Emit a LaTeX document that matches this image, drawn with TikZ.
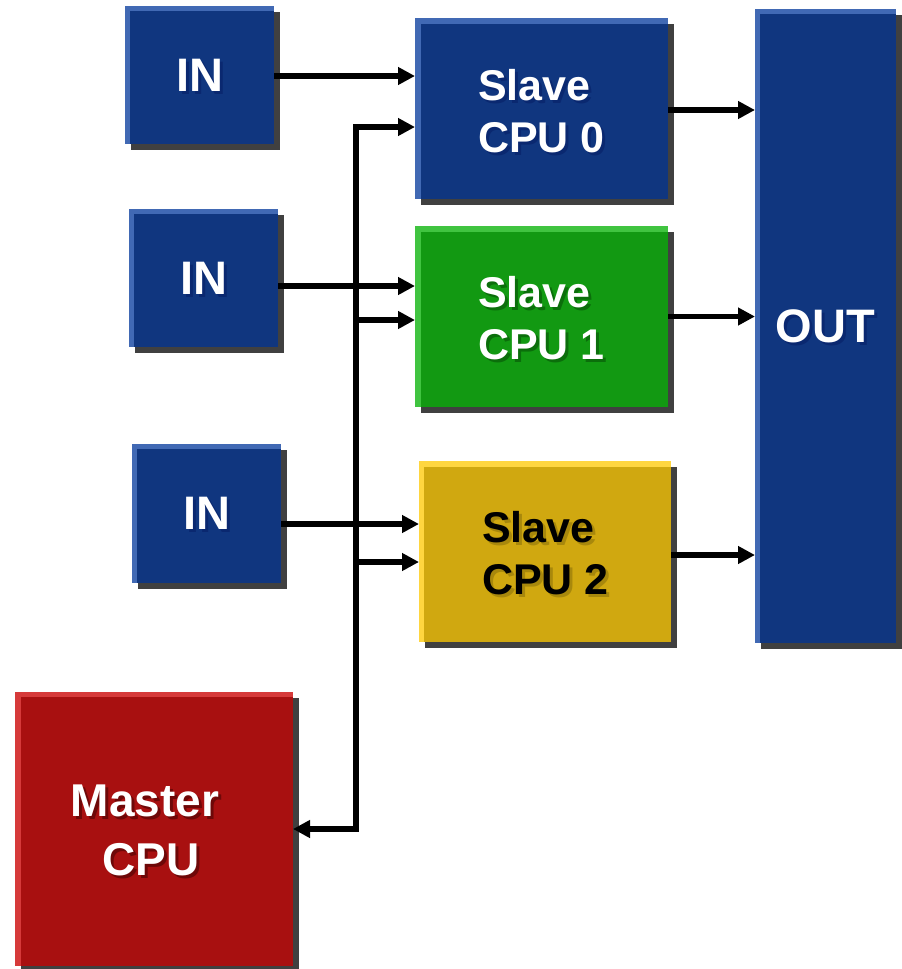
\documentclass[tikz,border=0pt]{standalone}
\usepackage{fontspec}
\setmainfont{Liberation Sans}
\usetikzlibrary{arrows.meta,shadows}
\definecolor{bluemain}{HTML}{10367F}
\definecolor{bluelight}{HTML}{4169B4}
\definecolor{blueshd}{HTML}{0A2870}
\definecolor{greenmain}{HTML}{129912}
\definecolor{greenlight}{HTML}{40C440}
\definecolor{greenshd}{HTML}{0B6E0B}
\definecolor{yellowmain}{HTML}{D0A810}
\definecolor{yellowlight}{HTML}{FFD640}
\definecolor{yellowshd}{HTML}{A8880C}
\definecolor{redmain}{HTML}{A81010}
\definecolor{redlight}{HTML}{D63A3A}
\definecolor{redshd}{HTML}{6E0808}
\definecolor{shadowc}{HTML}{404040}
\begin{document}
\begin{tikzpicture}[x=1pt,y=-1pt,
  blk/.style={inner sep=0pt, outer sep=0pt, anchor=north west,
    drop shadow={shadow xshift=6pt,shadow yshift=-6pt,fill=shadowc,opacity=1}},
  lbl/.style={inner sep=0pt, font=\bfseries\fontsize{43}{52}\selectfont},
  biglbl/.style={inner sep=0pt, font=\bfseries\fontsize{47}{55}\selectfont},
  mlbl/.style={inner sep=0pt, align=center, font=\bfseries\fontsize{46}{59}\selectfont},
  arr/.style={line width=5.5pt, -{Triangle[length=17pt,width=17pt]}},
  barr/.style={line width=5.5pt, line join=miter, {Triangle[length=17pt,width=17pt]}-{Triangle[length=17pt,width=17pt]}}
]
\useasboundingbox (0,0) rectangle (902,969);

% ---- boxes ----
\node[blk, fill=bluelight, minimum width=149pt, minimum height=138pt] (in1) at (125,6) {};
\fill[bluemain] ([shift={(5pt,-5pt)}]in1.north west) rectangle (in1.south east);
\node[blk, fill=bluelight, minimum width=149pt, minimum height=138pt] (in2) at (129,209) {};
\fill[bluemain] ([shift={(5pt,-5pt)}]in2.north west) rectangle (in2.south east);
\node[blk, fill=bluelight, minimum width=149pt, minimum height=139pt] (in3) at (132,444) {};
\fill[bluemain] ([shift={(5pt,-5pt)}]in3.north west) rectangle (in3.south east);

\node[blk, fill=bluelight, minimum width=253pt, minimum height=181pt] (cpu0) at (415,18) {};
\fill[bluemain] ([shift={(6pt,-6pt)}]cpu0.north west) rectangle (cpu0.south east);
\node[blk, fill=greenlight, minimum width=253pt, minimum height=181pt] (cpu1) at (415,226) {};
\fill[greenmain] ([shift={(6pt,-6pt)}]cpu1.north west) rectangle (cpu1.south east);
\node[blk, fill=yellowlight, minimum width=252pt, minimum height=181pt] (cpu2) at (419,461) {};
\fill[yellowmain] ([shift={(5pt,-6pt)}]cpu2.north west) rectangle (cpu2.south east);

\node[blk, fill=bluelight, minimum width=141pt, minimum height=634pt] (out) at (755,9) {};
\fill[bluemain] ([shift={(5pt,-5pt)}]out.north west) rectangle (out.south east);

\node[blk, fill=redlight, minimum width=278pt, minimum height=274pt] (master) at (15,692) {};
\fill[redmain] ([shift={(6pt,-5pt)}]master.north west) rectangle (master.south east);

% ---- labels ----
\node[biglbl, text=blueshd] (in1s) at ([shift={(3pt,-3pt)}]in1.center) {IN};
\node[biglbl, text=white] (in1t) at (in1.center) {IN};
\node[biglbl, text=blueshd] (in2s) at ([shift={(3pt,-3pt)}]in2.center) {IN};
\node[biglbl, text=white] (in2t) at (in2.center) {IN};
\node[biglbl, text=blueshd] (in3s) at ([shift={(3pt,-3pt)}]in3.center) {IN};
\node[biglbl, text=white] (in3t) at (in3.center) {IN};

\node[lbl, align=left, anchor=west, text=blueshd] (c0s) at ([shift={(66pt,-5.5pt)}]cpu0.west) {Slave\\CPU 0};
\node[lbl, align=left, anchor=west, text=white] (c0t) at ([shift={(63pt,-2.5pt)}]cpu0.west) {Slave\\CPU 0};
\node[lbl, align=left, anchor=west, text=greenshd] (c1s) at ([shift={(66pt,-5pt)}]cpu1.west) {Slave\\CPU 1};
\node[lbl, align=left, anchor=west, text=white] (c1t) at ([shift={(63pt,-2pt)}]cpu1.west) {Slave\\CPU 1};
\node[lbl, align=left, anchor=west, text=yellowshd] (c2s) at ([shift={(66pt,-4.5pt)}]cpu2.west) {Slave\\CPU 2};
\node[lbl, align=left, anchor=west, text=black] (c2t) at ([shift={(63pt,-1.5pt)}]cpu2.west) {Slave\\CPU 2};

\node[biglbl, text=blueshd] (outs) at ([shift={(3pt,-3pt)}]out.center) {OUT};
\node[biglbl, text=white] (outt) at (out.center) {OUT};

\node[mlbl, text=redshd] (ms) at ([shift={(0pt,-4pt)}]master.center) {Master\kern12pt\\CPU};
\node[mlbl, text=white] (mt) at ([shift={(-3pt,-1pt)}]master.center) {Master\kern12pt\\CPU};

% ---- connectors ----
\coordinate (bustop) at (356,127);
\coordinate (br1) at (356,320);
\coordinate (br2) at (356,562);

\draw[arr] ([yshift=-1pt]in1.east) -- ([yshift=-1pt]in1.east -| cpu0.west);
\draw[arr] ([yshift=-8pt]in2.east) -- ([yshift=-8pt]in2.east -| cpu1.west);
\draw[arr] ([yshift=-10.5pt]in3.east) -- ([yshift=-10.5pt]in3.east -| cpu2.west);

\draw[barr] (master.east) -| (bustop) -- (bustop -| cpu0.west);
\draw[arr] (br1) -- (br1 -| cpu1.west);
\draw[arr] (br2) -- (br2 -| cpu2.west);

\draw[arr] ([yshift=-1.5pt]cpu0.east) -- ([yshift=-1.5pt]cpu0.east -| out.west);
\draw[arr] (cpu1.east) -- (cpu1.east -| out.west);
\draw[arr] ([yshift=-3.5pt]cpu2.east) -- ([yshift=-3.5pt]cpu2.east -| out.west);
\end{tikzpicture}
\end{document}
